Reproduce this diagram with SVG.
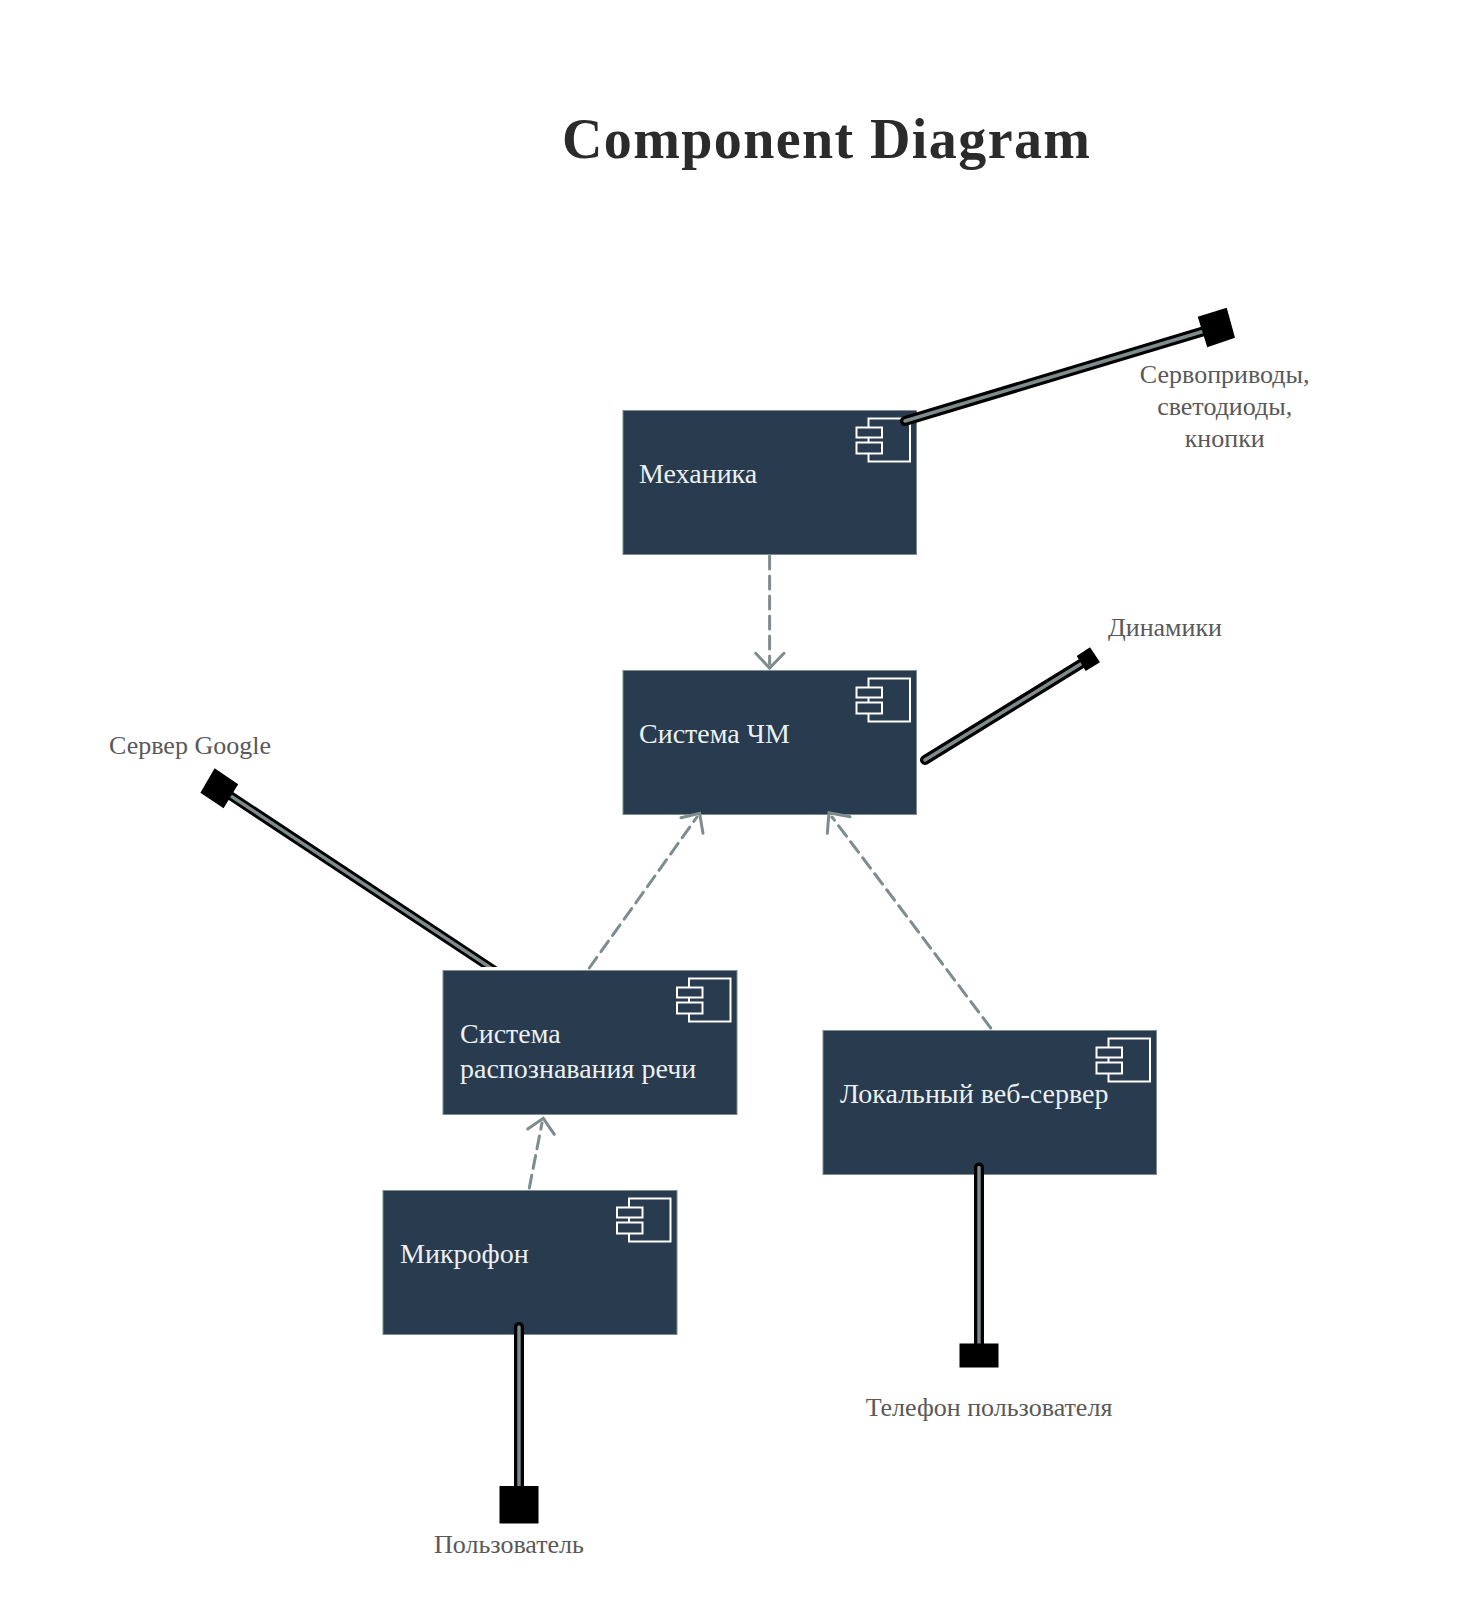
<svg xmlns="http://www.w3.org/2000/svg" width="1473" height="1622" viewBox="0 0 1473 1622">
<style>
text{font-family:"Liberation Serif","Times New Roman",serif}
.title{font-size:56px;font-weight:bold;fill:#2b2b2b;letter-spacing:1.4px}
.nt{font-size:28px;fill:#ecf0f1}
.lb{font-size:26px;fill:#595959;text-anchor:middle}
.box{fill:#283b4f;stroke:#7f8c8d;stroke-width:1}
.ic{fill:#283b4f;stroke:#fff;stroke-width:2}
.dash{fill:none;stroke:#7f8c8d;stroke-width:3;stroke-dasharray:13 7;stroke-linecap:round}
.head{fill:none;stroke:#7f8c8d;stroke-width:3;stroke-linecap:round;stroke-linejoin:miter}
.o{stroke:#000;stroke-width:10;stroke-linecap:round;fill:none}
.i{stroke:#7f8c8d;stroke-width:3.4;stroke-linecap:round;fill:none}
</style>
<defs>
<g id="icon">
<rect class="ic" x="-48" y="8" width="41.5" height="43"/>
<rect class="ic" x="-60" y="17" width="25.5" height="10"/>
<rect class="ic" x="-60" y="32" width="25.5" height="11"/>
</g>
<clipPath id="cg"><rect x="150" y="740" width="400" height="227"/></clipPath>
</defs>
<rect width="1473" height="1622" fill="#fff"/>
<text class="title" x="562" y="158">Component Diagram</text>

<g id="n-mech"><rect class="box" x="623" y="410.5" width="293.5" height="144"/><use href="#icon" x="916.5" y="410.5"/><text class="nt" x="639" y="483">Механика</text></g>
<g id="n-chm"><rect class="box" x="623" y="670.5" width="293.5" height="144"/><use href="#icon" x="916.5" y="670.5"/><text class="nt" x="639" y="743">Система ЧМ</text></g>
<g id="n-speech"><rect class="box" x="443" y="970.5" width="294" height="144"/><use href="#icon" x="737" y="970.5"/><text class="nt" x="460" y="1043">Система</text><text class="nt" x="460" y="1078">распознавания речи</text></g>
<g id="n-mic"><rect class="box" x="383" y="1190.5" width="294" height="144"/><use href="#icon" x="677" y="1190.5"/><text class="nt" x="400" y="1263">Микрофон</text></g>
<g id="n-web"><rect class="box" x="823" y="1030.5" width="333.5" height="144"/><use href="#icon" x="1156.5" y="1030.5"/><text class="nt" x="840" y="1103">Локальный веб-сервер</text></g>

<g id="connectors">
<path class="dash" d="M769.6 556V664"/><path class="head" d="M755.7 653.3L769.6 668L784 653.3"/>
<path class="dash" d="M589.3 968L697 817"/><path class="head" d="M681 817.7L699.6 813.3L703 833.3"/>
<path class="dash" d="M990.7 1028L832 817"/><path class="head" d="M827.3 833.3L829 812.7L850 816.7"/>
<path class="dash" d="M529.3 1188L542 1123"/><path class="head" d="M527.7 1129L543.3 1118.3L554.3 1134.3"/>

<path class="o" d="M905 421L1216 327.5"/><path class="i" d="M905 421L1216 327.5"/><polygon points="1197.7,316.7 1226.7,307.7 1235,337.7 1207.3,347.3"/>
<path class="o" d="M925 760L1088 659.5"/><path class="i" d="M925 760L1088 659.5"/><polygon points="1090,647.3 1100,662.3 1085.7,671 1076.7,656"/>
<g clip-path="url(#cg)"><path class="o" style="stroke-width:9" d="M219.3 788.3L500 974"/><path class="i" d="M219.3 788.3L500 974"/></g><polygon points="214.6,768.3 238.2,784.3 223.6,808.3 200.4,792.7"/>
<path class="o" d="M519 1327V1490"/><path class="i" d="M519 1327V1490"/><rect x="499.5" y="1486" width="39" height="37.5"/>
<path class="o" d="M979 1167.5V1350"/><path class="i" d="M979 1167.5V1350"/><rect x="959.5" y="1343.5" width="39" height="24"/>
</g>

<g id="labels">
<text class="lb" x="1224.7" y="383">Сервоприводы,</text><text class="lb" x="1224.7" y="415">светодиоды,</text><text class="lb" x="1224.7" y="447">кнопки</text>
<text class="lb" x="1165" y="636">Динамики</text>
<text class="lb" x="190" y="754">Сервер Google</text>
<text class="lb" x="509" y="1553">Пользователь</text>
<text class="lb" x="989" y="1416">Телефон пользователя</text>
</g>
</svg>
